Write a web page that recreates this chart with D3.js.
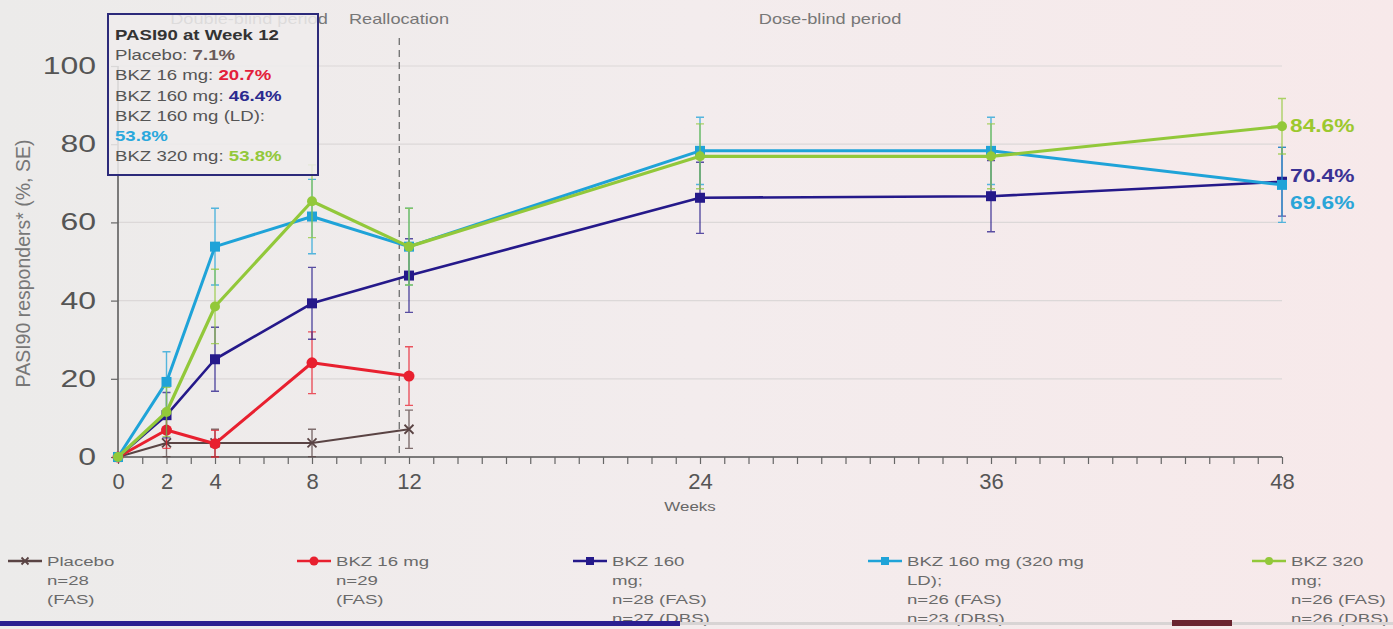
<!DOCTYPE html>
<html><head><meta charset="utf-8">
<script src="https://cdn.jsdelivr.net/npm/d3@7"></script>
<style>
body{margin:0;padding:0;overflow:hidden;}
svg{display:block;font-family:"Liberation Sans",Arial,sans-serif;}
</style></head>
<body><svg id="c" width="1393" height="629"></svg>
<script>
// ---- data ----
const weeks = [0, 2, 4, 8, 12, 24, 36, 48];
const xTickLabels = [0, 2, 4, 8, 12, 24, 36, 48];
const yTicks = [0, 20, 40, 60, 80, 100];

const placeboWeeks = [0, 2, 4, 8, 12];
const placeboVals  = [0, 3.6, 3.6, 3.6, 7.1];
const placeboSE    = [0, 3.5, 3.5, 3.5, 4.9];

const bkz16Weeks = [0, 2, 4, 8, 12];
const bkz16Vals  = [0, 6.9, 3.4, 24.1, 20.7];
const bkz16SE    = [0, 4.7, 3.4, 7.9, 7.5];

const bkz160Weeks = [0, 2, 4, 8, 12, 24, 36, 48];
const bkz160Vals  = [0, 10.7, 25.0, 39.3, 46.4, 66.3, 66.7, 70.4];
const bkz160SE    = [0, 5.8, 8.2, 9.2, 9.4, 9.1, 9.1, 8.8];

const bkz160LDWeeks = [0, 2, 4, 8, 12, 24, 36, 48];
const bkz160LDVals  = [0, 19.2, 53.8, 61.5, 53.8, 78.3, 78.3, 69.6];
const bkz160LDSE    = [0, 7.7, 9.8, 9.5, 9.8, 8.6, 8.6, 9.6];

const bkz320Weeks = [0, 2, 4, 8, 12, 24, 36, 48];
const bkz320Vals  = [0, 11.5, 38.5, 65.4, 53.8, 76.9, 76.9, 84.6];
const bkz320SE    = [0, 6.3, 9.5, 9.3, 9.8, 8.3, 8.3, 7.1];

const boxLines = [
  {t:"PASI90 at Week 12", bold:true},
  {t:"Placebo: ", v:"7.1%", c:"#6a5a5a"},
  {t:"BKZ 16 mg: ", v:"20.7%", c:"#e3203a"},
  {t:"BKZ 160 mg: ", v:"46.4%", c:"#2b2a8f"},
  {t:"BKZ 160 mg (LD):"},
  {t:"", v:"53.8%", c:"#2aa8dc"},
  {t:"BKZ 320 mg: ", v:"53.8%", c:"#93c83a"}
];

const legendItems = [
  {lines:["Placebo","n=28","(FAS)"], color:"#5a4444", marker:"x"},
  {lines:["BKZ 16 mg","n=29","(FAS)"], color:"#e8202f", marker:"diamond"},
  {lines:["BKZ 160","mg;","n=28 (FAS)","n=27 (DBS)"], color:"#25198a", marker:"square"},
  {lines:["BKZ 160 mg (320 mg","LD);","n=26 (FAS)","n=23 (DBS)"], color:"#1fa3d8", marker:"square"},
  {lines:["BKZ 320","mg;","n=26 (FAS)","n=26 (DBS)"], color:"#92c83a", marker:"circle"}
];

const series = [
  {w:placeboWeeks, v:placeboVals, se:placeboSE, color:"#5a4444", width:2, marker:"x"},
  {w:bkz16Weeks, v:bkz16Vals, se:bkz16SE, color:"#e8202f", width:3, marker:"diamond"},
  {w:bkz160Weeks, v:bkz160Vals, se:bkz160SE, color:"#25198a", width:2.6, marker:"square"},
  {w:bkz160LDWeeks, v:bkz160LDVals, se:bkz160LDSE, color:"#1fa3d8", width:3, marker:"square"},
  {w:bkz320Weeks, v:bkz320Vals, se:bkz320SE, color:"#92c83a", width:3.2, marker:"circle"}
];

const endLabels = [
  {t:"84.6%", v:84.6, c:"#9cc82e", dy:0},
  {t:"70.4%", v:70.4, c:"#3a3294", dy:-6},
  {t:"69.6%", v:69.6, c:"#2aa5d8", dy:18}
];

// ---- drawing ----
const SX = 1.3; // horizontal stretch of the photographed slide text
const svg = d3.select("#c");
const defs = svg.append("defs");
const bg = defs.append("linearGradient").attr("id","bg").attr("x1","0").attr("x2","1").attr("y1","0").attr("y2","0");
bg.append("stop").attr("offset","0").attr("stop-color","#ecebea");
bg.append("stop").attr("offset","0.5").attr("stop-color","#f3eced");
bg.append("stop").attr("offset","1").attr("stop-color","#f7e9ea");
svg.append("rect").attr("width",1393).attr("height",629).attr("fill","url(#bg)");

function stext(parent, px, py, str, size, sx){
  return parent.append("text").attr("transform",`translate(${px},${py}) scale(${sx||SX},1)`)
    .attr("font-size",size).text(str);
}

const x = d3.scaleLinear().domain([0,48]).range([118,1282]);
const y = d3.scaleLinear().domain([0,100]).range([457,66]);

// gridlines
svg.append("g").selectAll("line").data(yTicks.filter(d=>d>0)).join("line")
  .attr("x1",x(0)).attr("x2",x(48)).attr("y1",d=>y(d)).attr("y2",d=>y(d))
  .attr("stroke","#dcd8d8").attr("stroke-width",1.2);

// y axis
const yAx = svg.append("g").attr("transform",`translate(${x(0)},0)`)
  .call(d3.axisLeft(y).tickValues(yTicks).tickSize(7).tickPadding(14));
yAx.select(".domain").attr("stroke","#555").attr("stroke-width",1.5).attr("d",`M0,${y(0)}V${y(100)}`);
yAx.selectAll(".tick line").attr("stroke","#666").attr("stroke-width",1.2);
yAx.selectAll(".tick text").attr("fill","#555").attr("font-size",23.5)
  .attr("font-family","Liberation Sans, Arial, sans-serif")
  .attr("transform",`translate(-22,0) scale(1.36,1)`).attr("x",0);

// x axis
const xAx = svg.append("g").attr("transform",`translate(0,${y(0)})`)
  .call(d3.axisBottom(x).tickValues(d3.range(0,49,1)).tickSize(7).tickFormat(d=>xTickLabels.includes(d)?d:""));
xAx.select(".domain").attr("stroke","#555").attr("stroke-width",1.5).attr("d",`M${x(0)},0H${x(48)}`);
xAx.selectAll(".tick line").attr("stroke","#666").attr("stroke-width",1.2);
xAx.selectAll(".tick text").attr("fill","#555").attr("font-size",22).attr("dy","1.0em")
  .attr("font-family","Liberation Sans Narrow, Arial Narrow, Liberation Sans, sans-serif");
stext(svg, x(24)-10, 511, "Weeks", 13).attr("text-anchor","middle").attr("fill","#666")
  .attr("font-family","Liberation Sans Narrow, Liberation Sans, sans-serif");

// y label
svg.append("text").attr("transform",`translate(30,${y(50)+2}) rotate(-90)`).attr("text-anchor","middle")
  .attr("fill","#777").attr("font-size",19.5).text("PASI90 responders* (%, SE)");

// reallocation dashed line
svg.append("line").attr("x1",x(11.6)).attr("x2",x(11.6)).attr("y1",38).attr("y2",y(0))
  .attr("stroke","#777").attr("stroke-width",1.4).attr("stroke-dasharray","7,5");

// period labels
stext(svg, 249, 24, "Double-blind period", 14).attr("text-anchor","middle").attr("fill","#777");
stext(svg, 399, 24, "Reallocation", 14).attr("text-anchor","middle").attr("fill","#777");
stext(svg, 830, 24, "Dose-blind period", 14).attr("text-anchor","middle").attr("fill","#777");

// markers
function drawMarker(g, type, cx, cy, color, s){
  if(type==="x"){
    g.append("path").attr("d",`M${cx-s},${cy-s}L${cx+s},${cy+s}M${cx-s},${cy+s}L${cx+s},${cy-s}`)
      .attr("stroke",color).attr("stroke-width",1.8);
  } else if(type==="square"){
    g.append("rect").attr("x",cx-s).attr("y",cy-s).attr("width",2*s).attr("height",2*s).attr("fill",color);
  } else if(type==="diamond"){
    g.append("circle").attr("cx",cx).attr("cy",cy).attr("r",s+0.5).attr("fill",color);
  } else {
    g.append("circle").attr("cx",cx).attr("cy",cy).attr("r",s).attr("fill",color);
  }
}

const line = d3.line();
series.forEach(s=>{
  const g = svg.append("g");
  s.w.forEach((wk,i)=>{
    if(!s.se[i]) return;
    const cx = x(wk), y1 = y(s.v[i]+s.se[i]), y2 = y(Math.max(0,s.v[i]-s.se[i]));
    g.append("path").attr("d",`M${cx},${y1}V${y2}M${cx-4},${y1}H${cx+4}M${cx-4},${y2}H${cx+4}`)
      .attr("stroke",s.color).attr("stroke-width",1.4).attr("fill","none").attr("opacity",0.75);
  });
  g.append("path").attr("d",line(s.w.map((wk,i)=>[x(wk),y(s.v[i])])))
    .attr("fill","none").attr("stroke",s.color).attr("stroke-width",s.width).attr("stroke-linejoin","round");
  s.w.forEach((wk,i)=>drawMarker(g,s.marker,x(wk),y(s.v[i]),s.color, s.marker==="x"?4.5:5));
});

// end labels
endLabels.forEach(l=>{
  stext(svg, x(48)+8, y(l.v)+l.dy+6, l.t, 17.5).attr("fill",l.c).attr("font-weight","bold");
});

// annotation box
const box = svg.append("g");
box.append("rect").attr("x",108).attr("y",14).attr("width",210).attr("height",161)
  .attr("fill","#efecec").attr("fill-opacity",0.85).attr("stroke","#2c2a7a").attr("stroke-width",2);
boxLines.forEach((l,i)=>{
  const t = stext(box, 115, 40+i*20.2, "", 14, 1.33).attr("fill","#555");
  if(l.bold){ t.attr("font-weight","bold").attr("fill","#333").text(l.t); return; }
  t.append("tspan").text(l.t);
  if(l.v) t.append("tspan").attr("fill",l.c).attr("font-weight","bold").text(l.v);
});

// legend
const legX = [8, 297, 573, 868, 1252];
legendItems.forEach((it,i)=>{
  const g = svg.append("g");
  const x0 = legX[i], ly = 561;
  g.append("line").attr("x1",x0).attr("x2",x0+34).attr("y1",ly).attr("y2",ly).attr("stroke",it.color).attr("stroke-width",2.5);
  drawMarker(g,it.marker,x0+17,ly,it.color,it.marker==="x"?3.5:4);
  it.lines.forEach((t,j)=>{
    stext(g, x0+39, ly+5+j*19, t, 13.5, 1.38).attr("fill","#6a6a6a");
  });
});

// bottom slide strip
svg.append("rect").attr("x",0).attr("y",621).attr("width",680).attr("height",5).attr("fill","#2a1f90");
svg.append("rect").attr("x",680).attr("y",622).attr("width",713).attr("height",3).attr("fill","#d8d4d4");
svg.append("rect").attr("x",1172).attr("y",620).attr("width",60).attr("height",6).attr("fill","#6a2530");
</script></body></html>
